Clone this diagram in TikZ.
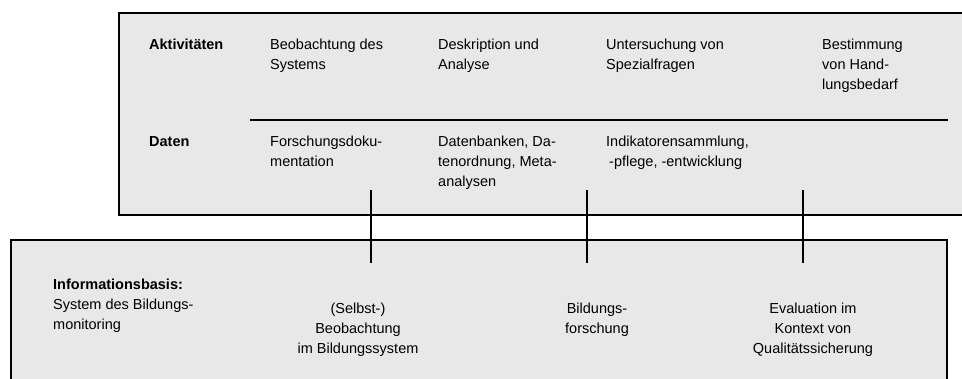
\documentclass[tikz,border=0pt]{standalone}
\usepackage{fontspec}
\setmainfont{Liberation Sans}
\usetikzlibrary{positioning}
\definecolor{boxgray}{RGB}{232,232,232}

\begin{document}
\begin{tikzpicture}[x=1pt,y=-1pt]

  % multi-line nodes sit on the baseline of their last line
  \tikzstyle{panel} = [draw, fill=boxgray, line width=1.8pt]
  \tikzstyle{txt} = [anchor=base west, align=left, inner sep=0pt, font=\fontsize{14.5}{20}\selectfont]
  \tikzstyle{ctxt} = [anchor=base, align=center, inner sep=0pt, font=\fontsize{14.5}{20}\selectfont]
  \tikzstyle{head} = [txt, font=\fontsize{14.5}{20}\selectfont\bfseries]
  \tikzstyle{rule} = [color=black!100, line width=1.5pt]

  \useasboundingbox (0,0) rectangle (962,379);

  \draw[panel] (119,13) rectangle (990,215); % upper panel
  \draw[panel] (11,240) rectangle (947,400); % lower panel

  % upper panel, first row
  \node[head] (akt) at (149,50) {Aktivitäten};
  \node[txt] (beob) at (270,70) {Beobachtung des\\Systems};
  \node[txt] (desk) at (438,70) {Deskription und\\Analyse};
  \node[txt] (unters) at (606,70) {Untersuchung von\\Spezialfragen};
  \node[txt] (bestimm) at (822,90) {Bestimmung\\von Hand-\\lungsbedarf};

  \coordinate (divl) at (250,120);
  \coordinate (divr) at (948,120);
  \draw[rule] (divl) -- (divr);

  % upper panel, second row
  \node[head] (daten) at (149,147) {Daten};
  \node[txt] (forsch) at (270,167) {Forschungsdoku-\\mentation};
  \node[txt] (datenb) at (438,187) {Datenbanken, Da-\\tenordnung, Meta-\\analysen};
  \node[txt] (indik) at (606,167) {Indikatorensammlung,\\\hspace{3pt}-pflege, -entwicklung};

  % lower panel
  \node[head] (infobasis) at (53,290) {Informationsbasis:};
  \node[txt] (system) at (53,330) {System des Bildungs-\\monitoring};
  \node[ctxt] (selbst) at (358,354) {(Selbst-)\\Beobachtung\\im Bildungssystem};
  \node[ctxt] (bildf) at (597,334) {Bildungs-\\forschung};
  \node[ctxt] (eval) at (813,354) {Evaluation im\\Kontext von\\Qualitätssicherung};

  % links between the panels
  \coordinate (up1) at (371,190);
  \coordinate (lo1) at (371,263);
  \coordinate (up2) at (587,190);
  \coordinate (lo2) at (587,263);
  \coordinate (up3) at (803,190);
  \coordinate (lo3) at (803,263);
  \draw[rule] (up1) -- (lo1);
  \draw[rule] (up2) -- (lo2);
  \draw[rule] (up3) -- (lo3);

\end{tikzpicture}
\end{document}
